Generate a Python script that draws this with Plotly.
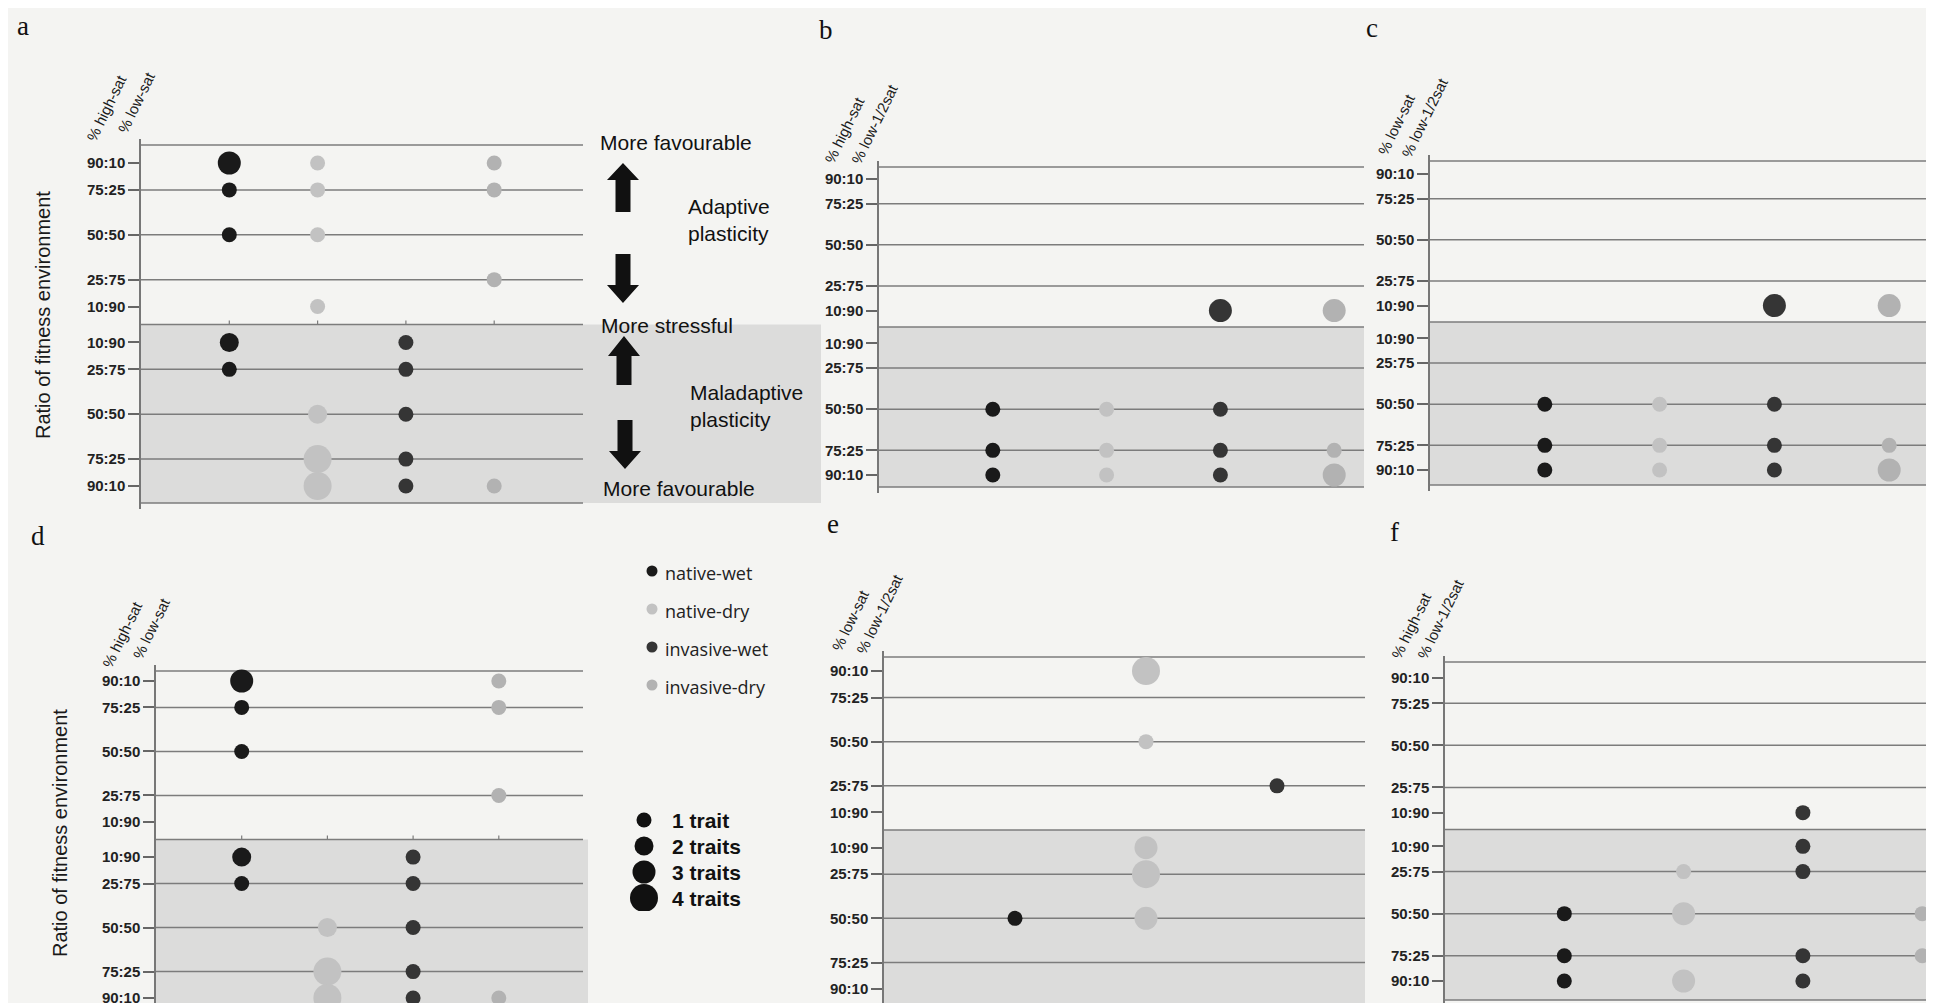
import plotly.graph_objects as go

W, H = 1934, 1003

# ---------------- data ----------------
RATIO_LABELS = ["90:10", "75:25", "50:50", "25:75", "10:90"]
HIGH_PCT = [90, 75, 50, 25, 10]
GROUPS = ["native-wet", "native-dry", "invasive-wet", "invasive-dry"]
TRAIT_COUNTS = [1, 2, 3, 4]
TRAIT_LABELS = ["1 trait", "2 traits", "3 traits", "4 traits"]
PANELS = ["a", "b", "c", "d", "e", "f"]

# rows: signed % of the first environment (+ = adaptive / upper block, - = maladaptive / lower block)
a_native_wet_rows = [90, 75, 50, -10, -25]
a_native_wet_traits = [3, 1, 1, 2, 1]
a_native_dry_rows = [90, 75, 50, 10, -50, -75, -90]
a_native_dry_traits = [1, 1, 1, 1, 2, 4, 4]
a_invasive_wet_rows = [-10, -25, -50, -75, -90]
a_invasive_wet_traits = [1, 1, 1, 1, 1]
a_invasive_dry_rows = [90, 75, 25, -90]
a_invasive_dry_traits = [1, 1, 1, 1]

b_native_wet_rows = [-50, -75, -90]
b_native_wet_traits = [1, 1, 1]
b_native_dry_rows = [-50, -75, -90]
b_native_dry_traits = [1, 1, 1]
b_invasive_wet_rows = [10, -50, -75, -90]
b_invasive_wet_traits = [3, 1, 1, 1]
b_invasive_dry_rows = [10, -75, -90]
b_invasive_dry_traits = [3, 1, 3]

c_native_wet_rows = [-50, -75, -90]
c_native_wet_traits = [1, 1, 1]
c_native_dry_rows = [-50, -75, -90]
c_native_dry_traits = [1, 1, 1]
c_invasive_wet_rows = [10, -50, -75, -90]
c_invasive_wet_traits = [3, 1, 1, 1]
c_invasive_dry_rows = [10, -75, -90]
c_invasive_dry_traits = [3, 1, 3]

d_native_wet_rows = [90, 75, 50, -10, -25]
d_native_wet_traits = [3, 1, 1, 2, 1]
d_native_dry_rows = [-50, -75, -90]
d_native_dry_traits = [2, 4, 4]
d_invasive_wet_rows = [-10, -25, -50, -75, -90]
d_invasive_wet_traits = [1, 1, 1, 1, 1]
d_invasive_dry_rows = [90, 75, 25, -90]
d_invasive_dry_traits = [1, 1, 1, 1]

e_native_wet_rows = [-50]
e_native_wet_traits = [1]
e_native_dry_rows = [90, 50, -10, -25, -50]
e_native_dry_traits = [4, 1, 3, 4, 3]
e_invasive_wet_rows = [25]
e_invasive_wet_traits = [1]
e_invasive_dry_rows = []
e_invasive_dry_traits = []

f_native_wet_rows = [-50, -75, -90]
f_native_wet_traits = [1, 1, 1]
f_native_dry_rows = [-25, -50, -90]
f_native_dry_traits = [1, 3, 3]
f_invasive_wet_rows = [10, -10, -25, -75, -90]
f_invasive_wet_traits = [1, 1, 1, 1, 1]
f_invasive_dry_rows = [-50, -75]
f_invasive_dry_traits = [1, 1]

HEADERS = {
    "a": ["% high-sat", "% low-sat"],
    "b": ["% high-sat", "% low-1/2sat"],
    "c": ["% low-sat", "% low-1/2sat"],
    "d": ["% high-sat", "% low-sat"],
    "e": ["% low-sat", "% low-1/2sat"],
    "f": ["% high-sat", "% low-1/2sat"],
}

DATA = {
    "a": [(a_native_wet_rows, a_native_wet_traits), (a_native_dry_rows, a_native_dry_traits),
          (a_invasive_wet_rows, a_invasive_wet_traits), (a_invasive_dry_rows, a_invasive_dry_traits)],
    "b": [(b_native_wet_rows, b_native_wet_traits), (b_native_dry_rows, b_native_dry_traits),
          (b_invasive_wet_rows, b_invasive_wet_traits), (b_invasive_dry_rows, b_invasive_dry_traits)],
    "c": [(c_native_wet_rows, c_native_wet_traits), (c_native_dry_rows, c_native_dry_traits),
          (c_invasive_wet_rows, c_invasive_wet_traits), (c_invasive_dry_rows, c_invasive_dry_traits)],
    "d": [(d_native_wet_rows, d_native_wet_traits), (d_native_dry_rows, d_native_dry_traits),
          (d_invasive_wet_rows, d_invasive_wet_traits), (d_invasive_dry_rows, d_invasive_dry_traits)],
    "e": [(e_native_wet_rows, e_native_wet_traits), (e_native_dry_rows, e_native_dry_traits),
          (e_invasive_wet_rows, e_invasive_wet_traits), (e_invasive_dry_rows, e_invasive_dry_traits)],
    "f": [(f_native_wet_rows, f_native_wet_traits), (f_native_dry_rows, f_native_dry_traits),
          (f_invasive_wet_rows, f_invasive_wet_traits), (f_invasive_dry_rows, f_invasive_dry_traits)],
}

# ---------------- style / geometry ----------------
GROUP_COLORS = ["#1a1a1a", "#c2c2c2", "#353535", "#b2b2b2"]
TRAIT_SIZES = [15, 19, 23, 28]
SIZE_OF = dict(zip(TRAIT_COUNTS, TRAIT_SIZES))
PAPER = "#f4f4f2"
SHADE = "#dcdcdb"
LINE = "#7c7c7c"
SANS = "Liberation Sans, Arial, sans-serif"
SERIF = "Liberation Serif, Times New Roman, serif"

# pixel geometry of each panel (layout only)
GEOM = {
    "a": dict(x0=133, unit=88.3, x1=575, y190=155, y10=478, top=137, bot=495, shade_x1=813,
              lab=(15, 18), title=(35, 307), sep_ticks=True),
    "b": dict(x0=871, unit=113.8, x1=1356, y190=171, y10=467, top=159, bot=479, shade_x1=1356,
              lab=(818, 22), title=None, sep_ticks=False),
    "c": dict(x0=1422, unit=114.8, x1=1934, y190=166, y10=462, top=153, bot=477, shade_x1=1934,
              lab=(1364, 20), title=None, sep_ticks=False),
    "d": dict(x0=148, unit=85.7, x1=575, y190=673, y10=990, top=663, bot=1010, shade_x1=580,
              lab=(30, 528), title=(52, 825), sep_ticks=True),
    "e": dict(x0=876, unit=131.0, x1=1357, y190=663, y10=981, top=649, bot=997, shade_x1=1357,
              lab=(825, 516), title=None, sep_ticks=False),
    "f": dict(x0=1437, unit=119.3, x1=1934, y190=670, y10=973, top=654, bot=992, shade_x1=1934,
              lab=(1386, 524), title=None, sep_ticks=False),
}


def px(x):
    return x / W


def py(y):
    return 1 - y / H


fig = go.Figure()
layout = dict(
    width=W, height=H, margin=dict(l=0, r=0, t=0, b=0),
    paper_bgcolor=PAPER, plot_bgcolor="rgba(0,0,0,0)", showlegend=False,
)
shapes = []
annotations = []

tickvals = [100 + p for p in HIGH_PCT] + [100 - p for p in HIGH_PCT[::-1]]
ticktext = RATIO_LABELS + RATIO_LABELS[::-1]

for k, p in enumerate(PANELS, start=1):
    g = GEOM[p]
    s = (g["y10"] - g["y190"]) / 180.0

    def vof(yy, g=g, s=s):
        return 190 - (yy - g["y190"]) / s

    dom_top = g["top"] - 6
    dom_bot = min(g["bot"] + 6, H)
    xmax = (g["x1"] - g["x0"]) / g["unit"]
    xn = "xaxis" if k == 1 else f"xaxis{k}"
    yn = "yaxis" if k == 1 else f"yaxis{k}"
    xr = "x" if k == 1 else f"x{k}"
    yr = "y" if k == 1 else f"y{k}"

    layout[xn] = dict(domain=[px(g["x0"]), px(g["x1"])], range=[0, xmax], anchor=yr,
                      visible=False, fixedrange=True)
    layout[yn] = dict(domain=[py(dom_bot), py(dom_top)], range=[vof(dom_bot), vof(dom_top)],
                      anchor=xr, showgrid=False, zeroline=False, showline=True,
                      linecolor="#777", linewidth=1.5, ticks="outside", ticklen=11,
                      tickwidth=1.5, tickcolor="#666", tickvals=tickvals, ticktext=ticktext,
                      tickfont=dict(family=SANS, size=15, color="#222", weight="bold"),
                      fixedrange=True)

    # shaded maladaptive block
    sep_px = g["y190"] + 90 * s
    shapes.append(dict(type="rect", xref="paper", yref="paper", layer="below",
                       x0=px(g["x0"]), x1=px(g["shade_x1"]), y0=py(min(g["bot"], H)), y1=py(sep_px),
                       fillcolor=SHADE, line=dict(width=0)))

    # horizontal reference lines
    line_vals = [vof(g["top"])] + [100 + v for v in HIGH_PCT[1:4]] + [100] + \
                [100 - v for v in HIGH_PCT[1:4][::-1]]
    if g["bot"] <= H:
        line_vals.append(vof(g["bot"]))
    for v in line_vals:
        shapes.append(dict(type="line", xref=xr, yref=yr, layer="below", x0=0, x1=xmax, y0=v, y1=v,
                           line=dict(color=LINE, width=1.5)))
    if g["sep_ticks"]:
        for ci in range(1, 5):
            shapes.append(dict(type="line", xref=xr, yref=yr, layer="below", x0=ci, x1=ci,
                               y0=100, y1=100 + 4 / s, line=dict(color=LINE, width=1.2)))

    # dots
    for gi, (rows, traits) in enumerate(DATA[p]):
        if not rows:
            continue
        fig.add_trace(go.Scatter(
            x=[gi + 1] * len(rows), y=[100 + r for r in rows], mode="markers",
            marker=dict(size=[SIZE_OF[t] for t in traits], color=GROUP_COLORS[gi], opacity=1,
                        line=dict(width=0)),
            xaxis=xr, yaxis=yr, cliponaxis=False, name=GROUPS[gi], showlegend=False,
            hovertemplate=GROUPS[gi] + ": %{text} trait(s)<extra></extra>", text=traits))

    # rotated column headers
    h1, h2 = HEADERS[p]
    annotations.append(dict(text=h1, xref="paper", yref="paper", x=px(g["x0"] - 34), y=py(g["top"] - 37),
                            xanchor="center", yanchor="middle", textangle=-64, showarrow=False,
                            font=dict(family=SANS, size=15, color="#1a1a1a")))
    annotations.append(dict(text=h2, xref="paper", yref="paper", x=px(g["x0"] - 5), y=py(g["top"] - 43),
                            xanchor="center", yanchor="middle", textangle=-64, showarrow=False,
                            font=dict(family=SANS, size=15, color="#1a1a1a")))
    # panel letter
    annotations.append(dict(text=p, xref="paper", yref="paper", x=px(g["lab"][0]), y=py(g["lab"][1]),
                            xanchor="center", yanchor="middle", showarrow=False,
                            font=dict(family=SERIF, size=27, color="#111")))
    if g["title"]:
        annotations.append(dict(text="Ratio of fitness environment", xref="paper", yref="paper",
                                x=px(g["title"][0]), y=py(g["title"][1]), textangle=-90,
                                xanchor="center", yanchor="middle", showarrow=False,
                                font=dict(family=SANS, size=20, color="#1a1a1a")))

# ---------------- explanatory arrows & text (panel a) ----------------
def arrow(cx, tip, base, head=17, hw=16, sw=7.5):
    d = 1 if base > tip else -1
    hy = tip + d * head
    pts = [(cx, tip), (cx + hw, hy), (cx + sw, hy), (cx + sw, base), (cx - sw, base),
           (cx - sw, hy), (cx - hw, hy)]
    path = "M " + " L ".join(f"{px(x):.5f},{py(y):.5f}" for x, y in pts) + " Z"
    return dict(type="path", xref="paper", yref="paper", path=path, fillcolor="#111",
                line=dict(width=0), layer="above")

shapes += [arrow(615, 155, 204), arrow(615, 295, 246, head=18),
           arrow(616, 328, 377, head=20), arrow(617, 461, 412, head=18)]

for txt, x, y in [("More favourable", 590, 134), ("Adaptive<br>plasticity", 678, 212),
                  ("More stressful", 591, 317), ("Maladaptive<br>plasticity", 680, 398),
                  ("More favourable", 593, 480)]:
    annotations.append(dict(text=txt, xref="paper", yref="paper", x=px(x), y=py(y), xanchor="left",
                            yanchor="middle", align="left", showarrow=False,
                            font=dict(family=SANS, size=21, color="#111")))

# ---------------- legends ----------------
layout["xaxis7"] = dict(domain=[px(624), px(824)], range=[-20, 180], anchor="y7", visible=False)
layout["yaxis7"] = dict(domain=[py(696), py(544)], range=[3.5, -0.5], anchor="x7", visible=False)
fig.add_trace(go.Scatter(x=[0] * 4, y=list(range(4)), mode="markers", xaxis="x7", yaxis="y7",
                         marker=dict(size=11, color=GROUP_COLORS, opacity=1), showlegend=False,
                         hoverinfo="skip"))
for i, gname in enumerate(GROUPS):
    annotations.append(dict(text=gname, xref="x7", yref="y7", x=11, y=i + 0.05, xanchor="left",
                            yanchor="middle", showarrow=False,
                            font=dict(family="Open Sans, sans-serif", size=18, color="#222")))

layout["xaxis8"] = dict(domain=[px(616), px(816)], range=[-20, 180], anchor="y8", visible=False)
layout["yaxis8"] = dict(domain=[py(903), py(799)], range=[3.5, -0.5], anchor="x8", visible=False)
fig.add_trace(go.Scatter(x=[0] * 4, y=list(range(4)), mode="markers", xaxis="x8", yaxis="y8",
                         marker=dict(size=TRAIT_SIZES, color="#111", opacity=1, line=dict(width=0)),
                         showlegend=False, hoverinfo="skip"))
for i, lab in enumerate(TRAIT_LABELS):
    annotations.append(dict(text=f"<b>{lab}</b>", xref="x8", yref="y8", x=26, y=i, xanchor="left",
                            yanchor="middle", showarrow=False,
                            font=dict(family=SANS, size=21, color="#111")))

layout["shapes"] = shapes
layout["annotations"] = annotations
fig.update_layout(**layout)
fig.write_html("out.html")
